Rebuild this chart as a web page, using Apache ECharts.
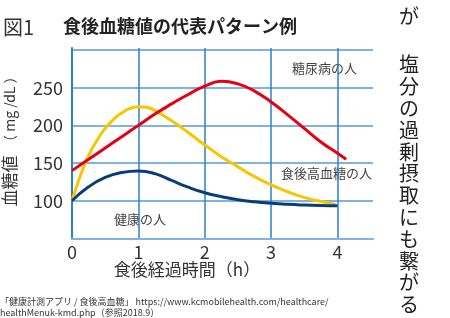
<!DOCTYPE html>
<html>
<head>
<meta charset="utf-8">
<script src="https://cdn.jsdelivr.net/npm/echarts@6/dist/echarts.min.js"></script>
<style>
  html, body { margin: 0; padding: 0; background: #fff; }
  #chart { width: 450px; height: 318px; }
</style>
</head>
<body>
<div id="chart"></div>
<script>
// 食後経過時間 (h) と血糖値 (mg/dL)
const xTicks = [0, 1, 2, 3, 4]
const yTicks = [100, 150, 200, 250]

// 糖尿病の人
const diabetes = [
  [0, 140], [0.25, 155], [0.5, 170], [0.75, 185], [1, 200], [1.25, 215],
  [1.5, 228.5], [1.75, 241], [2, 252], [2.25, 258.5], [2.5, 255],
  [2.75, 245.5], [3, 231], [3.25, 214], [3.5, 196], [3.75, 178],
  [4, 163], [4.13, 155]
]
// 食後高血糖の人
const highPost = [
  [0, 100], [0.125, 133], [0.25, 160], [0.375, 180], [0.5, 196],
  [0.625, 208], [0.75, 216.5], [0.875, 222.5], [1, 224.8], [1.125, 224],
  [1.25, 219.5], [1.5, 206], [1.75, 190.5], [2, 174], [2.25, 158.5],
  [2.5, 145], [2.75, 132], [3, 121], [3.25, 112], [3.5, 104.5],
  [3.75, 99], [3.97, 95]
]
// 健康の人
const healthy = [
  [0, 100], [0.25, 118.5], [0.5, 131], [0.75, 137.5], [1, 139.5],
  [1.25, 136], [1.5, 127], [1.75, 118], [2, 110.7], [2.25, 105.5],
  [2.5, 101.5], [2.75, 98.7], [3, 96.7], [3.25, 95.3], [3.5, 94.4],
  [3.75, 93.8], [4, 93.5]
]

const FONT = '"Noto Sans CJK JP", "Noto Sans", sans-serif'
const vBlue = '#2a7fd2'
const hBlue = '#7fb3e2'

const chart = echarts.init(document.getElementById('chart'))

chart.setOption({
  animation: false,
  backgroundColor: '#fff',
  grid: { left: 72, right: 77, top: 48, bottom: 79.5, containLabel: false },
  xAxis: {
    type: 'value', min: 0, max: 4.535, interval: 1,
    axisLine: { show: true, lineStyle: { color: hBlue, width: 2 } },
    axisTick: { show: false },
    axisLabel: {
      margin: 5, fontSize: 18, color: '#333', fontFamily: FONT,
      formatter: v => xTicks.includes(v) ? String(v) : ''
    },
    splitLine: { show: true, showMinLine: false, showMaxLine: false,
      lineStyle: { color: vBlue, width: 1.5 } }
  },
  yAxis: {
    type: 'value', min: 50, max: 302.6, interval: 50,
    axisLine: { show: true, lineStyle: { color: vBlue, width: 2 } },
    axisTick: { show: false },
    axisLabel: {
      margin: 9, fontSize: 18, color: '#333', fontFamily: FONT,
      formatter: v => yTicks.includes(v) ? String(v) : ''
    },
    splitLine: { show: true, showMinLine: false, showMaxLine: false,
      lineStyle: { color: hBlue, width: 2 } }
  },
  series: [
    { type: 'line', data: highPost, smooth: true, symbol: 'none',
      lineStyle: { color: '#f7c600', width: 3 } },
    { type: 'line', data: healthy, smooth: true, symbol: 'none',
      lineStyle: { color: '#0b3c78', width: 3 } },
    { type: 'line', data: diabetes, smooth: true, symbol: 'none',
      lineStyle: { color: '#e60012', width: 3 } }
  ],
  graphic: [
    { type: 'text', left: 3, top: 17,
      style: { text: '図1', font: '20px ' + FONT, fill: '#333' } },
    { type: 'text', left: 63, top: 17,
      style: { text: '食後血糖値の代表パターン例', font: 'bold 18px ' + FONT, fill: '#222' } },
    { type: 'text', x: 10, y: 138, rotation: Math.PI / 2,
      style: {
        text: '{a|血糖値}  {b|（ mg /dL ）}', align: 'center', verticalAlign: 'middle',
        rich: {
          a: { fontSize: 17, fontFamily: FONT, fill: '#333' },
          b: { fontSize: 14, fontFamily: FONT, fill: '#333' }
        }
      } },
    { type: 'text', x: 187, y: 270,
      style: { text: '食後経過時間（h）', font: '17px ' + FONT, fill: '#333',
        align: 'center', verticalAlign: 'middle' } },
    { type: 'text', x: 292, y: 68,
      style: { text: '糖尿病の人', font: '13px ' + FONT, fill: '#444', verticalAlign: 'middle' } },
    { type: 'text', x: 281, y: 173,
      style: { text: '食後高血糖の人', font: '13px ' + FONT, fill: '#444', verticalAlign: 'middle' } },
    { type: 'text', x: 114, y: 219,
      style: { text: '健康の人', font: '13px ' + FONT, fill: '#444', verticalAlign: 'middle' } },
    { type: 'text', x: 0, y: 302,
      style: { text: '「健康計測アプリ / 食後高血糖」 https://www.kcmobilehealth.com/healthcare/',
        font: '9px ' + FONT, fill: '#333', verticalAlign: 'middle' } },
    { type: 'text', x: 0, y: 313,
      style: { text: 'healthMenuk-kmd.php（参照2018.9）',
        font: '9px ' + FONT, fill: '#333', verticalAlign: 'middle' } },
    { type: 'text', x: 409, y: 16,
      style: { text: 'が', font: '20px ' + FONT, fill: '#222', align: 'center', verticalAlign: 'middle' } },
    { type: 'text', x: 409, y: 54,
      style: { text: '塩\n分\nの\n過\n剰\n摂\n取\nに\nも\n繋\nが\nる', font: '20px ' + FONT,
        lineHeight: 21.8, fill: '#222', align: 'center', verticalAlign: 'top' } }
  ]
})
</script>
</body>
</html>
